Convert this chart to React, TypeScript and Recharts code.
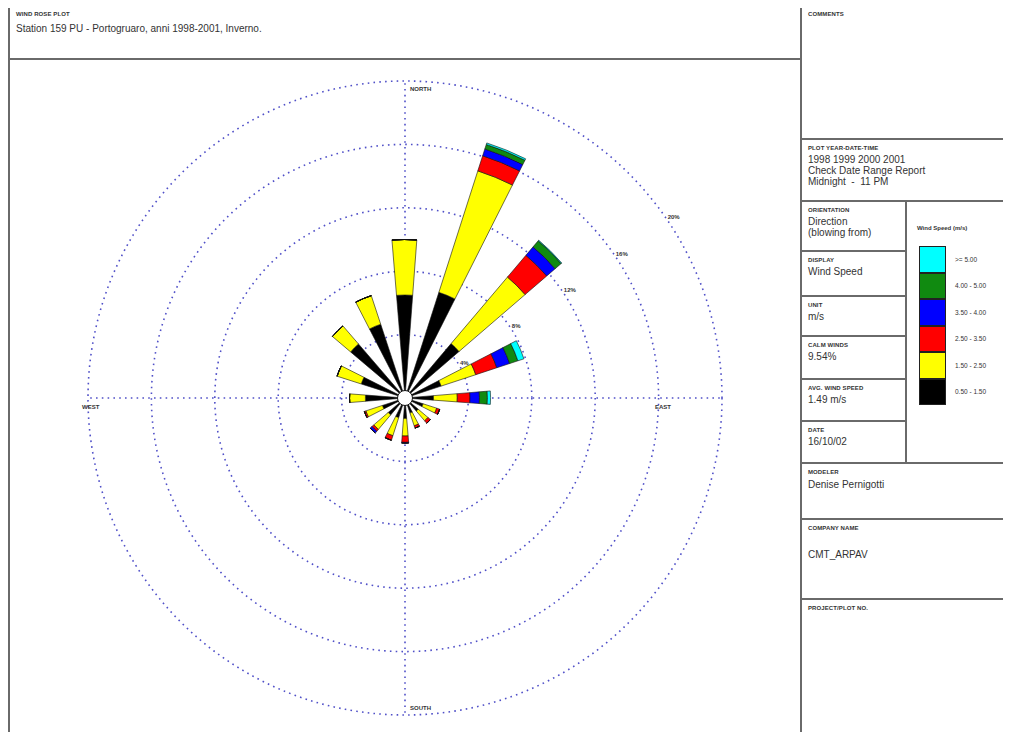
import React from 'react';
import {
  RadialBarChart,
  RadialBar,
  PolarGrid,
  PolarAngleAxis,
  PolarRadiusAxis,
} from 'recharts';

// 16 compass sectors, clockwise from north
const directions = ['N', 'NNE', 'NE', 'ENE', 'E', 'ESE', 'SE', 'SSE', 'S', 'SSW', 'SW', 'WSW', 'W', 'WNW', 'NW', 'NNW'];

// frequency (%) per speed class, per direction
const speed050_150 = [6.5, 7.0, 4.5, 2.4, 1.8, 1.2, 1.1, 1.0, 1.3, 1.3, 1.4, 1.5, 2.5, 2.9, 4.5, 4.9];
const speed150_250 = [3.5, 8.05, 5.5, 2.3, 1.5, 0.9, 0.8, 0.85, 1.1, 1.2, 1.2, 1.1, 1.0, 1.6, 1.5, 1.9];
const speed250_350 = [0, 1.0, 1.8, 1.4, 0.8, 0.2, 0.2, 0.15, 0.4, 0.3, 0.15, 0.1, 0, 0, 0, 0];
const speed350_400 = [0, 0.45, 0.7, 0.85, 0.6, 0, 0, 0, 0.05, 0, 0.15, 0, 0, 0, 0, 0];
const speed400_500 = [0, 0.3, 0.5, 0.55, 0.5, 0, 0, 0, 0, 0, 0, 0, 0, 0, 0, 0];
const speedOver500 = [0, 0.1, 0.05, 0.4, 0.2, 0, 0, 0, 0, 0, 0, 0, 0, 0, 0, 0];

const ringTicks = [4, 8, 12, 16, 20];

const classes = [
  { key: 'c1', label: '0.50 - 1.50', color: '#000000', values: speed050_150 },
  { key: 'c2', label: '1.50 - 2.50', color: '#ffff00', values: speed150_250 },
  { key: 'c3', label: '2.50 - 3.50', color: '#ff0000', values: speed250_350 },
  { key: 'c4', label: '3.50 - 4.00', color: '#0000ff', values: speed350_400 },
  { key: 'c5', label: '4.00 - 5.00', color: '#108a10', values: speed400_500 },
  { key: 'c6', label: '>= 5.00', color: '#00ffff', values: speedOver500 },
];

const data = directions.map((dir, i) => {
  const row: any = { dir };
  classes.forEach((c) => (row[c.key] = c.values[i]));
  return row;
});

const CHART_W = 792;
const CHART_H = 682;
const CX = 397;
const CY = 340;
const R = 317;

const BORDER = '2px solid #6a6a6a';
const FONT = '"Liberation Sans", Arial, sans-serif';

const compassNames: Record<string, string> = { N: 'NORTH', E: 'EAST', S: 'SOUTH', W: 'WEST' };

const renderCompass = (props: any) => {
  const name = compassNames[props.payload?.value];
  if (!name) return <g />;
  let x = CX + 5;
  let y = CY - R + 10;
  if (name === 'EAST') { x = CX + R - 67; y = CY + 11; }
  if (name === 'SOUTH') { x = CX + 5; y = CY + R - 5; }
  if (name === 'WEST') { x = CX - R - 6; y = CY + 11; }
  return (
    <text x={x} y={y} fontSize={6} fontWeight="bold" fill="#333" fontFamily={FONT}>
      {name}
    </text>
  );
};

const renderRing = (props: any) => (
  <text x={props.x + 3} y={props.y + 3} fontSize={6} fontWeight="bold" fill="#333" fontFamily={FONT}>
    {`${props.payload?.value}%`}
  </text>
);

function Box({ left, top, width, height, children }: any) {
  return (
    <div
      style={{
        position: 'absolute',
        left,
        top,
        width,
        height,
        border: BORDER,
        boxSizing: 'border-box',
        padding: '5px 6px',
      }}
    >
      {children}
    </div>
  );
}

const Head = ({ children }: any) => (
  <div style={{ fontSize: 6, fontWeight: 'bold', color: '#333', letterSpacing: 0.1, marginBottom: 3 }}>{children}</div>
);
const Val = ({ children }: any) => (
  <div style={{ fontSize: 10, color: '#333', lineHeight: '11px' }}>{children}</div>
);

export default function App() {
  return (
    <div style={{ position: 'relative', width: 1011, height: 740, margin: -8, background: '#fff', fontFamily: FONT, overflow: 'hidden' }}>
      <Box left={8} top={4} width={794} height={56}>
        <Head>WIND ROSE PLOT</Head>
        <div style={{ fontSize: 10, color: '#333', marginTop: 6 }}>Station 159 PU - Portogruaro, anni 1998-2001, Inverno.</div>
      </Box>

      <div style={{ position: 'absolute', left: 8, top: 58, width: 794, height: 690, border: BORDER, boxSizing: 'border-box' }} />
      <div style={{ position: 'absolute', left: 8, top: 58 }}>
        <RadialBarChart
          width={CHART_W}
          height={CHART_H}
          data={data}
          layout="centric"
          cx={CX}
          cy={CY}
          innerRadius={0}
          outerRadius={R}
          startAngle={78.75}
          endAngle={-281.25}
          barCategoryGap="31%"
          margin={{ top: 0, right: 0, bottom: 0, left: 0 }}
        >
          <PolarGrid
            gridType="circle"
            polarAngles={[90, 0, -90, 180]}
            stroke="#5050c8"
            strokeWidth={1.6}
            strokeDasharray="1.6 4.2"
          />
          <PolarAngleAxis dataKey="dir" type="category" axisLine={false} tickLine={false} tick={renderCompass} />
          <PolarRadiusAxis
            type="number"
            domain={[0, 20]}
            ticks={ringTicks}
            angle={35}
            axisLine={false}
            tickLine={false}
            tick={renderRing}
          />
          {classes.map((c) => (
            <RadialBar
              key={c.key}
              dataKey={c.key}
              stackId="wind"
              fill={c.color}
              stroke="#111"
              strokeWidth={0.6}
              isAnimationActive={false}
            />
          ))}
        </RadialBarChart>
        {/* calm-winds circle in the centre */}
        <div
          style={{
            position: 'absolute',
            left: CX - 8,
            top: CY - 8,
            width: 16,
            height: 16,
            borderRadius: '50%',
            background: '#fff',
            border: '1px solid #111',
            boxSizing: 'border-box',
          }}
        />
      </div>

      <Box left={800} top={4} width={209} height={136}>
        <Head>COMMENTS</Head>
      </Box>
      <Box left={800} top={138} width={209} height={64}>
        <Head>PLOT YEAR-DATE-TIME</Head>
        <Val>1998 1999 2000 2001</Val>
        <Val>Check Date Range Report</Val>
        <Val>Midnight&nbsp; - &nbsp;11 PM</Val>
      </Box>
      <Box left={800} top={200} width={107} height={52}>
        <Head>ORIENTATION</Head>
        <Val>Direction</Val>
        <Val>(blowing from)</Val>
      </Box>
      <Box left={800} top={250} width={107} height={47}>
        <Head>DISPLAY</Head>
        <Val>Wind Speed</Val>
      </Box>
      <Box left={800} top={295} width={107} height={42}>
        <Head>UNIT</Head>
        <Val>m/s</Val>
      </Box>
      <Box left={800} top={335} width={107} height={45}>
        <Head>CALM WINDS</Head>
        <Val>9.54%</Val>
      </Box>
      <Box left={800} top={378} width={107} height={44}>
        <Head>AVG. WIND SPEED</Head>
        <Val>1.49 m/s</Val>
      </Box>
      <Box left={800} top={420} width={107} height={44}>
        <Head>DATE</Head>
        <Val>16/10/02</Val>
      </Box>
      <Box left={905} top={200} width={104} height={264}>
        <div style={{ fontSize: 6, fontWeight: 'bold', color: '#333', marginTop: 18, marginLeft: 4 }}>Wind Speed (m/s)</div>
        <div style={{ position: 'absolute', left: 12, top: 44 }}>
          {[...classes].reverse().map((c) => (
            <div key={c.key} style={{ display: 'flex', alignItems: 'center', height: 26.5 }}>
              <div style={{ width: 27, height: 26.5, background: c.color, border: '1px solid #222', boxSizing: 'border-box' }} />
              <div style={{ fontSize: 6.5, color: '#333', marginLeft: 9 }}>{c.label}</div>
            </div>
          ))}
        </div>
      </Box>
      <Box left={800} top={462} width={209} height={58}>
        <Head>MODELER</Head>
        <div style={{ fontSize: 10, color: '#333', marginTop: 4 }}>Denise Pernigotti</div>
      </Box>
      <Box left={800} top={518} width={209} height={82}>
        <Head>COMPANY NAME</Head>
        <div style={{ fontSize: 10, color: '#333', marginTop: 18 }}>CMT_ARPAV</div>
      </Box>
      <Box left={800} top={598} width={209} height={150}>
        <Head>PROJECT/PLOT NO.</Head>
      </Box>
    </div>
  );
}
